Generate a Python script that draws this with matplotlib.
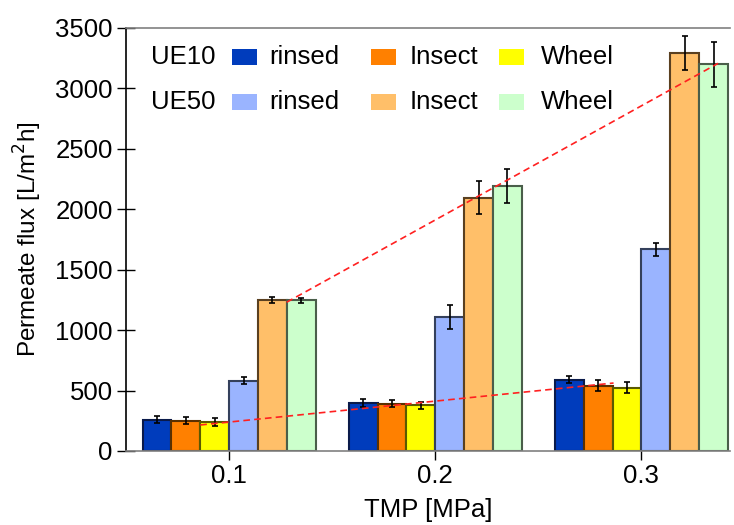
import matplotlib.pyplot as plt
from matplotlib.patches import Rectangle
import numpy as np

plt.rcParams['font.family'] = ['Liberation Sans', 'DejaVu Sans']

tmp_labels = ['0.1', '0.2', '0.3']

# UE10 membrane
ue10_rinsed = [260, 395, 590]
ue10_rinsed_err = [30, 35, 28]
ue10_insect = [250, 390, 540]
ue10_insect_err = [30, 28, 45]
ue10_wheel = [240, 378, 524]
ue10_wheel_err = [30, 29, 48]

# UE50 membrane
ue50_rinsed = [580, 1110, 1667]
ue50_rinsed_err = [28, 100, 51]
ue50_insect = [1245, 2095, 3294]
ue50_insect_err = [25, 138, 140]
ue50_wheel = [1245, 2194, 3197]
ue50_wheel_err = [22, 139, 189]

# trend lines (red dashed)
trend_low_x = [-0.14, 1.865]
trend_low_y = [215, 562]
trend_high_x = [0.279, 2.372]
trend_high_y = [1230, 3206]

series = [
    (ue10_rinsed, ue10_rinsed_err, '#003cbc', '#0a1a4a'),
    (ue10_insect, ue10_insect_err, '#ff8000', '#5a3000'),
    (ue10_wheel, ue10_wheel_err, '#ffff00', '#5a5a00'),
    (ue50_rinsed, ue50_rinsed_err, '#9ab4ff', '#34405c'),
    (ue50_insect, ue50_insect_err, '#ffbf69', '#5a4020'),
    (ue50_wheel, ue50_wheel_err, '#ccffcc', '#4a5e4a'),
]

fig = plt.figure(figsize=(7.34, 5.25), dpi=100)
ax = fig.add_axes([0.1717, 0.141, 0.8229, 0.806])

x = np.arange(len(tmp_labels))
w = 0.14
for i, (vals, errs, fc, ec) in enumerate(series):
    ax.bar(x + (i - 2.5) * w, vals, width=w, color=fc, edgecolor=ec, linewidth=1.5,
           yerr=errs, ecolor='black', capsize=2.5,
           error_kw={'elinewidth': 1.2, 'capthick': 1.2}, zorder=2)

ax.plot(trend_low_x, trend_low_y, color='#ff2020', linestyle=(0, (4, 2.5)), linewidth=1.2, zorder=3)
ax.plot(trend_high_x, trend_high_y, color='#ff2020', linestyle=(0, (4, 2.5)), linewidth=1.2, zorder=3)

ax.set_xlim(-0.5, 2.43)
ax.set_ylim(0, 3500)
ax.set_yticks(np.arange(0, 3501, 500))
ax.set_xticks(x)
ax.set_xticklabels(tmp_labels)
ax.tick_params(axis='both', labelsize=18.5, direction='inout', length=13, width=1)
ax.tick_params(axis='x', pad=3)
ax.tick_params(axis='y', pad=3)

ax.spines['right'].set_visible(False)
ax.spines['top'].set_color('#808080')
ax.spines['bottom'].set_color('#808080')
ax.spines['left'].set_color('black')
for s in ax.spines.values():
    s.set_linewidth(1.2)

ax.set_xlabel('TMP [MPa]', fontsize=18.5, labelpad=7)
ax.set_ylabel('Permeate flux [L/m$^2$h]', fontsize=17.5, labelpad=8)

# custom legend (two rows: UE10 / UE50)
rows = [('UE10', 0.931, [s[2] for s in series[:3]]),
        ('UE50', 0.824, [s[2] for s in series[3:]])]
patch_x = [0.1755, 0.4056, 0.6175]
text_x = [0.2368, 0.470, 0.687]
names = ['rinsed', 'Insect', 'Wheel']
for label, yc, colors in rows:
    ax.text(0.041, yc, label, transform=ax.transAxes, fontsize=18.5, va='center', ha='left')
    for px, tx, c, n in zip(patch_x, text_x, colors, names):
        ax.add_patch(Rectangle((px, yc - 0.019), 0.042, 0.038, transform=ax.transAxes,
                               facecolor=c, edgecolor='none', zorder=4))
        ax.text(tx, yc, n, transform=ax.transAxes, fontsize=18.5, va='center', ha='left')

fig.savefig('out.png', dpi=100)
